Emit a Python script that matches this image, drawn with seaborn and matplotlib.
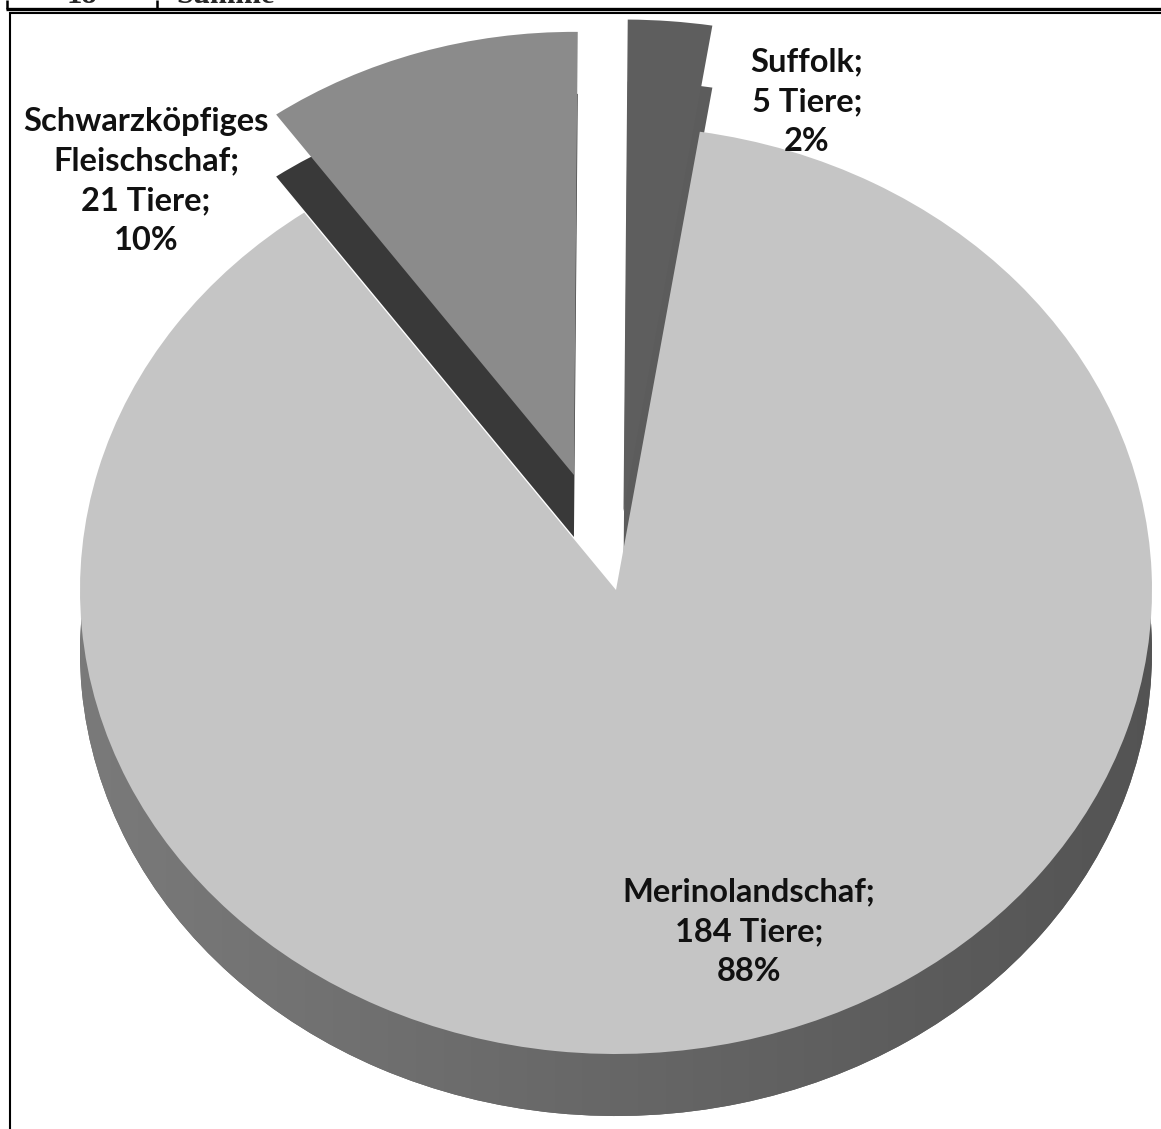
import numpy as np
import matplotlib
matplotlib.use("Agg")
import matplotlib.pyplot as plt
from matplotlib.lines import Line2D
import seaborn as sns

# ---------------- data ----------------
breeds = ["Merinolandschaf", "Schwarzköpfiges Fleischschaf", "Suffolk"]
animals = [184, 21, 5]
unit = "Tiere"
table_row = ["18", "Summe"]

# ---------------- style ----------------
top_colors = ["#c5c5c5", "#8b8b8b", "#5e5e5e"]
side_colors = ["#5e5e5e", "#393939", "#5c5c5c"]
explode = [0.0, 0.26, 0.17]
radii = [1.0, 0.955, 1.06]

sns.set_theme(style="white")
plt.rcParams["font.family"] = ["Lato", "DejaVu Sans"]

W, H = 1161, 1129
fig = plt.figure(figsize=(W / 100, H / 100), dpi=100)
fig.patch.set_facecolor("white")
ax = fig.add_axes([0, 0, 1, 1])

cx, cy = 616, 590      # pie centre in pixels
rx, ry = 536, 464      # ellipse radii in pixels
depth = 62 / ry


def px(x, y):
    return (x - cx) / rx, (cy - y) / ry


side_w, _ = ax.pie(animals, explode=explode, startangle=81, counterclock=False,
                   colors=side_colors, center=(0, -depth),
                   wedgeprops=dict(linewidth=0, zorder=1), frame=False)
top_w, _ = ax.pie(animals, explode=explode, startangle=81, counterclock=False,
                  colors=top_colors, center=(0, 0),
                  wedgeprops=dict(linewidth=0, zorder=3), frame=False)
for ws in (side_w, top_w):
    for w, r in zip(ws, radii):
        w.set_radius(r)

# shaded rim of the big slice
g = np.linspace(0.49, 0.32, 400)
rgb = np.dstack([np.tile(g, (10, 1))] * 3)
im = ax.imshow(rgb, extent=(-1.15, 1.1, -1.3, 0.2), aspect="auto", zorder=2,
               interpolation="bilinear")
im.set_clip_path(side_w[0])

ax.set_aspect("auto")
ax.set_xlim((0 - cx) / rx, (W - cx) / rx)
ax.set_ylim((cy - H) / ry, cy / ry)
ax.axis("off")

# ---------------- labels ----------------
total = sum(animals)
pcts = [round(100 * a / total) for a in animals]
label_pos = [(749, 932), (146, 181), (807, 102)]
for name, a, p, (lx, ly) in zip(breeds, animals, pcts, label_pos):
    txt = f"{name.replace(' ', chr(10))};\n{a} {unit};\n{p}%"
    ax.text(*px(lx, ly), txt, ha="center", va="center", fontsize=23.5,
            fontweight="bold", linespacing=1.45, color="#111111", zorder=6)

# ---------------- frame + table fragment ----------------
def fline(xs, ys, lw):
    fig.add_artist(Line2D([x / W for x in xs], [1 - y / H for y in ys],
                          transform=fig.transFigure, color="black", lw=lw,
                          solid_capstyle="butt"))

fline([9.5, 9.5], [12, H], 1.5)
fline([9, W], [12.5, 12.5], 1.5)
fline([6, W], [8.5, 8.5], 2.4)
fline([7, 7], [0, 9], 1.8)
fline([157, 157], [0, 9], 1.8)
for t, tx in zip(table_row, [82, 226]):
    fig.text(tx / W, 1 - 3 / H, t, family=["Liberation Serif"], fontweight="bold",
             fontsize=22, ha="center", va="baseline")

fig.savefig("out.png", dpi=100)
